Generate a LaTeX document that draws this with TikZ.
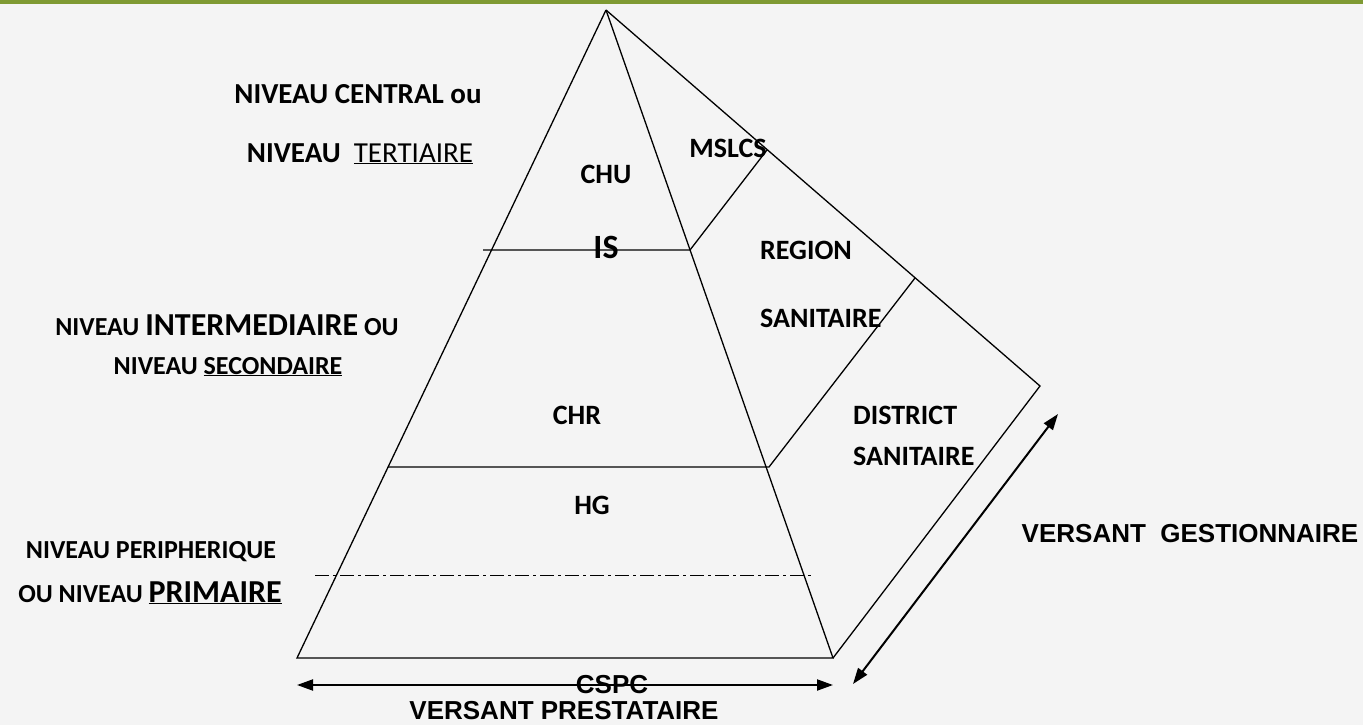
\documentclass[tikz,border=0pt]{standalone}
\usepackage{fontspec}
\setmainfont{Carlito}
\newfontfamily\arialf{Liberation Sans}
\usetikzlibrary{arrows.meta}
\definecolor{topbar}{HTML}{7F9A33}
\definecolor{paper}{HTML}{F4F4F4}

\begin{document}
\begin{tikzpicture}[x=1pt,y=-1pt,
		edge/.style={line width=1.3pt},
		lbl/.style={inner sep=0pt,anchor=base,font=\fontsize{28}{33}\selectfont\bfseries},
		lbll/.style={lbl,anchor=base west},
		lvl/.style={inner sep=0pt,anchor=base,font=\fontsize{26}{31}\selectfont\bfseries},
		versant/.style={inner sep=0pt,anchor=base,font=\arialf\fontsize{26}{30}\selectfont\bfseries},
		span/.style={line width=2pt,{Triangle[length=16pt,width=11pt]}-{Triangle[length=16pt,width=11pt]}}]
		
		\fill[paper] (0,0) rectangle (1363,725);
		\fill[topbar] (0,0) rectangle (1363,4);
		\useasboundingbox (0,0) rectangle (1363,725);
		
		% pyramid
		\coordinate (apex) at (606,10);
		\coordinate (bl) at (297,658);
		\coordinate (br) at (833,658);
		\coordinate (back) at (1040,386);
		\coordinate (is-l) at (483,250);
		\coordinate (is-r) at (690,250);
		\coordinate (chr-l) at (388,467);
		\coordinate (chr-r) at (769,467);
		\coordinate (dd-l) at (315,575);
		\coordinate (dd-r) at (813,575);
		\coordinate (ms-t) at (767,150);
		\coordinate (rg-t) at (915,278);
		
		\draw[edge] (apex) -- (bl) -- (br) -- (apex);
		\draw[edge] (apex) -- (back) -- (br);
		\draw[edge] (is-l) -- (is-r) -- (ms-t);
		\draw[edge] (chr-l) -- (chr-r) -- (rg-t);
		\draw[line width=1pt,dash pattern=on 14pt off 4pt on 3pt off 4pt] (dd-l) -- (dd-r);
		
		% arrows
		\coordinate (pa-l) at (297,685);
		\coordinate (pa-r) at (833,685);
		\coordinate (ga-b) at (853,684);
		\coordinate (ga-t) at (1058,414);
		\draw[span] (pa-l) -- (pa-r);
		\draw[span] (ga-b) -- (ga-t);
		
		% levels
		\node[lbl,font=\fontsize{29}{34}\selectfont\bfseries] (central) at (358,103) {NIVEAU CENTRAL ou};
		\node[lbl,font=\fontsize{29}{34}\selectfont\bfseries] (tertiaire) at (360,162) {NIVEAU\ \ \underline{\mdseries TERTIAIRE}};
		\node[lvl] (intermed) at (227,335) {NIVEAU {\fontsize{32}{36}\selectfont INTERMEDIAIRE} OU};
		\node[lvl] (secondaire) at (228,374) {NIVEAU \underline{SECONDAIRE}};
		\node[lvl] (periph) at (151,558) {NIVEAU PERIPHERIQUE};
		\node[lvl] (primaire) at (150,602) {OU NIVEAU {\fontsize{32}{36}\selectfont\underline{PRIMAIRE}}};
		
		% structures
		\node[lbl] (chu) at (606,183) {CHU};
		\node[lbl,font=\fontsize{34}{38}\selectfont\bfseries] (is) at (606,258) {IS};
		\node[lbl] (chr) at (577,424) {CHR};
		\node[lbl] (hg) at (592,514) {HG};
		\node[lbl] (mslcs) at (728,157) {MSLCS};
		\node[lbll] (region) at (760,259) {REGION};
		\node[lbll] (region2) at (760,327) {SANITAIRE};
		\node[lbll] (district) at (853,424) {DISTRICT};
		\node[lbll] (district2) at (853,465) {SANITAIRE};
		
		% versants
		\node[versant] (cspc) at (612,693) {CSPC};
		\node[versant] (prest) at (564,719) {VERSANT PRESTATAIRE};
		\node[versant] (gest) at (1190,542) {VERSANT\ \ GESTIONNAIRE};
	\end{tikzpicture}
\end{document}
